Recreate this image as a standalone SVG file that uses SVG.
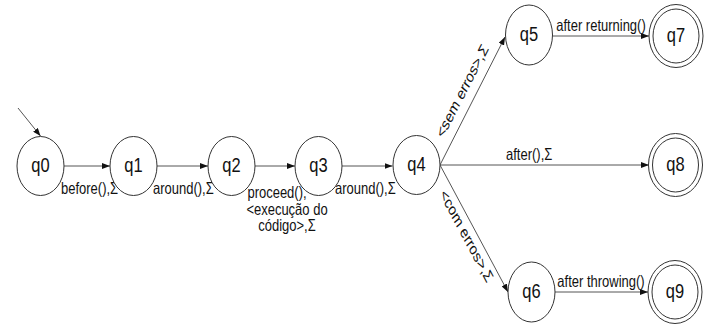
<svg xmlns="http://www.w3.org/2000/svg" width="704" height="327" viewBox="0 0 704 327">
  <style>
    .state { fill: #ffffff; stroke: #333333; stroke-width: 1; }
    .name { font-family: "Liberation Sans", Arial, sans-serif; font-size: 16.5px; fill: #111111; text-anchor: middle; }
    .edge { fill: none; stroke: #555555; stroke-width: 1; marker-end: url(#arrow); }
    .lbl { font-family: "Liberation Sans", Arial, sans-serif; font-size: 13px; fill: #111111; }
    .mid { text-anchor: middle; }
  </style>
  <defs>
    <marker id="arrow" markerUnits="userSpaceOnUse" markerWidth="8" markerHeight="6" refX="8" refY="3" orient="auto">
      <path d="M0,0 L8,3 L0,6 z" fill="#111111"/>
    </marker>
  </defs>
  <rect width="704" height="327" fill="#ffffff"/>

  <!-- transitions; all lettering is drawn 1.27x taller than wide -->
  <g id="connectors">
    <path class="edge" d="M18,108 L40.5,136"/>
    <path class="edge" d="M64,166 L110,166"/>
    <path class="edge" d="M157,166 L208,166"/>
    <path class="edge" d="M255,166 L295,166"/>
    <path class="edge" d="M342,166 L392.5,166"/>
    <path class="edge" d="M440,165 L505,37"/>
    <path class="edge" d="M440,165 L649,165"/>
    <path class="edge" d="M440,165 L508,292"/>
    <path class="edge" d="M552.5,36 L649,36"/>
    <path class="edge" d="M555,292 L648,292"/>

    <text class="lbl" transform="translate(61,194) scale(1,1.27)">before(),Σ</text>
    <text class="lbl" transform="translate(153,194) scale(1,1.27)">around(),Σ</text>
    <text class="lbl mid" transform="translate(277,198) scale(1,1.27)">proceed(),</text>
    <text class="lbl mid" transform="translate(287,215) scale(1,1.27)">&lt;execução do</text>
    <text class="lbl mid" transform="translate(287,231) scale(1,1.27)">código&gt;,Σ</text>
    <text class="lbl" transform="translate(335,194) scale(1,1.27)">around(),Σ</text>
    <text class="lbl mid" transform="translate(466,94) scale(1,1.27) rotate(-57)">&lt;sem erros&gt;,Σ</text>
    <text class="lbl mid" transform="translate(463,239) scale(1,1.27) rotate(56)">&lt;com erros&gt;,Σ</text>
    <text class="lbl" transform="translate(506,160) scale(1,1.27)">after(),Σ</text>
    <text class="lbl mid" transform="translate(601,31) scale(1,1.27)">after returning()</text>
    <text class="lbl mid" transform="translate(601,287) scale(1,1.27)">after throwing()</text>
  </g>

  <g id="q0"><ellipse class="state" cx="40.5" cy="166" rx="23.5" ry="29.5"/><text class="name" transform="translate(40.5,171.5) scale(1,1.27)">q0</text></g>
  <g id="q1"><ellipse class="state" cx="133.5" cy="166" rx="23.5" ry="29.5"/><text class="name" transform="translate(133.5,171.5) scale(1,1.27)">q1</text></g>
  <g id="q2"><ellipse class="state" cx="231.5" cy="166" rx="23.5" ry="29.5"/><text class="name" transform="translate(231.5,171.5) scale(1,1.27)">q2</text></g>
  <g id="q3"><ellipse class="state" cx="318.5" cy="166" rx="23.5" ry="29.5"/><text class="name" transform="translate(318.5,171.5) scale(1,1.27)">q3</text></g>
  <g id="q4"><ellipse class="state" cx="416.5" cy="165" rx="23.5" ry="29.5"/><text class="name" transform="translate(416.5,170.5) scale(1,1.27)">q4</text></g>
  <g id="q5"><ellipse class="state" cx="529" cy="35" rx="23.5" ry="30"/><text class="name" transform="translate(529,40.5) scale(1,1.27)">q5</text></g>
  <g id="q6"><ellipse class="state" cx="531.5" cy="292" rx="23.5" ry="30"/><text class="name" transform="translate(531.5,297.5) scale(1,1.27)">q6</text></g>
  <g id="q7"><ellipse class="state" cx="676" cy="36" rx="27" ry="31.5"/><ellipse class="state" cx="676" cy="36" rx="23" ry="27"/><text class="name" transform="translate(676,41.5) scale(1,1.27)">q7</text></g>
  <g id="q8"><ellipse class="state" cx="675.5" cy="165" rx="27" ry="31.5"/><ellipse class="state" cx="675.5" cy="165" rx="23" ry="27"/><text class="name" transform="translate(675.5,170.5) scale(1,1.27)">q8</text></g>
  <g id="q9"><ellipse class="state" cx="675" cy="292" rx="27" ry="31.5"/><ellipse class="state" cx="675" cy="292" rx="23" ry="27"/><text class="name" transform="translate(675,297.5) scale(1,1.27)">q9</text></g>
</svg>
